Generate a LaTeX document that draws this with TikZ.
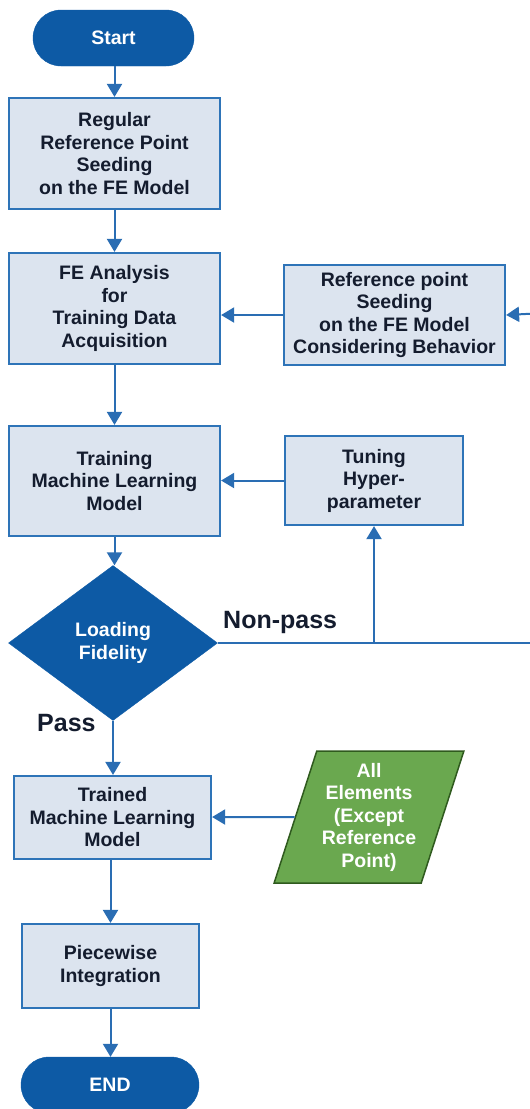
\documentclass[tikz,border=0pt]{standalone}
\usepackage{fontspec}
\setmainfont{Liberation Sans}
\usetikzlibrary{shapes.geometric,shapes.misc,arrows.meta}
\definecolor{termblue}{HTML}{0D5AA5}
\definecolor{boxfill}{HTML}{DCE4EF}
\definecolor{boxline}{HTML}{2E74B8}
\definecolor{arrowcol}{HTML}{2A6DB3}
\definecolor{txtdark}{HTML}{141C2E}
\definecolor{greenfill}{HTML}{6AA84F}
\definecolor{greenline}{HTML}{2F5A1E}
\tikzset{
  x=1pt, y=-1pt,
  txt/.style={font=\fontsize{19.5}{22.5}\selectfont\bfseries, align=center},
  term/.style={txt, rounded rectangle, fill=termblue, draw=termblue, text=white, inner sep=0pt},
  procbox/.style={txt, rectangle, fill=boxfill, draw=boxline, line width=2.2pt, text=txtdark, inner sep=0pt},
  decis/.style={txt, diamond, fill=termblue, draw=termblue, text=white, inner sep=0pt},
  iobox/.style={txt, trapezium, trapezium left angle=70.4, trapezium right angle=109.6, trapezium stretches=true, fill=greenfill, draw=greenline, line width=1.5pt, text=white, inner sep=0pt},
  flow/.style={draw=arrowcol, line width=2pt, -{Triangle[width=15pt,length=13pt]}},
  flowline/.style={draw=arrowcol, line width=2pt},
  lbl/.style={font=\fontsize{25}{28}\selectfont\bfseries, text=txtdark, inner sep=0pt}
}
\begin{document}
\begin{tikzpicture}
\useasboundingbox (0,0) rectangle (530,1109);
\node[term, minimum width=161pt, minimum height=56pt] (start) at (113.5,38) {Start};
\node[procbox, minimum width=211pt, minimum height=111pt] (b1) at (114.5,153.5) {Regular\\Reference Point\\Seeding\\on the FE Model};
\node[procbox, minimum width=211pt, minimum height=111pt] (b2) at (114.5,308.5) {FE Analysis\\for\\Training Data\\Acquisition};
\node[procbox, minimum width=221pt, minimum height=100pt] (b3) at (394.5,315) {Reference point\\Seeding\\on the FE Model\\Considering Behavior};
\node[procbox, minimum width=211pt, minimum height=110pt] (b4) at (114.5,481) {Training\\Machine Learning\\Model};
\node[procbox, minimum width=178pt, minimum height=89pt] (b5) at (374,480.5) {Tuning\\Hyper-\\parameter};
\node[decis, minimum width=209pt, minimum height=155pt] (dia) at (113,643) {Loading\\Fidelity};
\node[procbox, minimum width=197pt, minimum height=83pt] (b6) at (112.5,817.5) {Trained\\Machine Learning\\Model};
\node[iobox, minimum width=190pt, minimum height=132pt] (para) at (369,817) {All\\Elements\\(Except\\Reference\\Point)};
\node[procbox, minimum width=177pt, minimum height=84pt] (b7) at (110.5,966) {Piecewise\\Integration};
\node[term, minimum width=178pt, minimum height=56pt] (endn) at (110,1085) {END};
\node[lbl, anchor=west] (np) at (223,622) {Non-pass};
\node[lbl, anchor=west] (ps) at (37,723) {Pass};
\coordinate (rtop) at (545,313);
\coordinate (rbot) at (545,643);
\coordinate (tj) at (b5.south |- dia.east);
% connectors
\draw[flow] (start.south -| b1.north) -- (b1.north);
\draw[flow] (b1.south) -- (b2.north);
\draw[flow] (b2.south) -- (b4.north);
\draw[flow] (b4.south) -- (b4.south |- dia.north);
\draw[flow] (dia.south) -- (dia.south |- b6.north);
\draw[flow] (b6.south -| b7.north) -- (b7.north);
\draw[flow] (b7.south) -- (b7.south |- endn.north);
\draw[flow] (b3.west) -- (b3.west -| b2.east);
\draw[flow] (b5.west) -- (b5.west -| b4.east);
\draw[flow] (para) -- (para -| b6.east);
\draw[flowline] (dia.east) -- (rbot);
\draw[flow] (tj) -- (b5.south);
\draw[flow] (rbot) -- (rtop) -- (b3.east);
\end{tikzpicture}
\end{document}
